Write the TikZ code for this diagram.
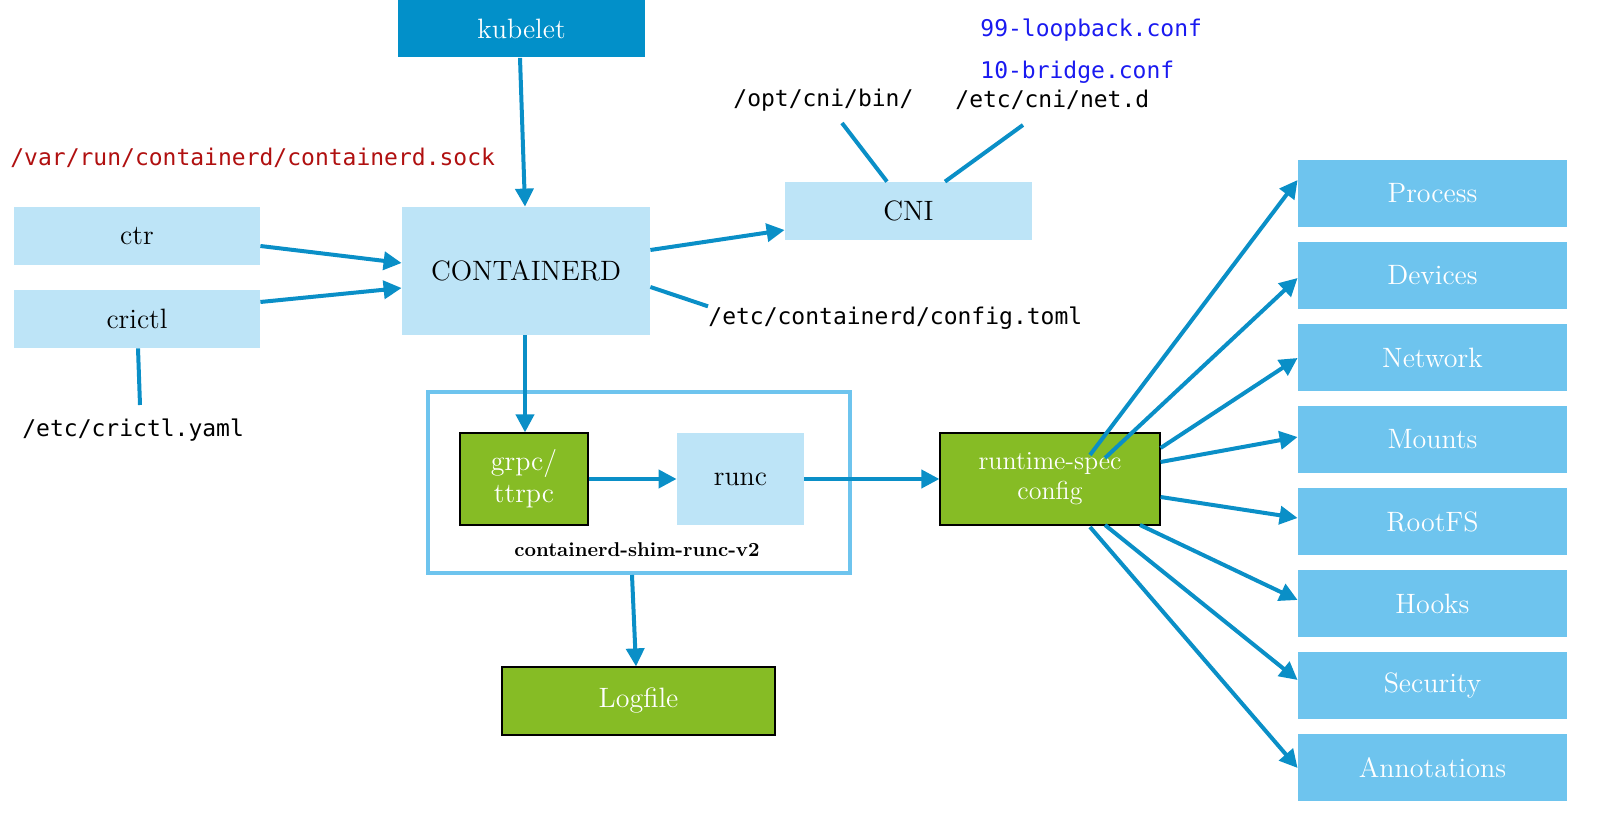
\documentclass[tikz,border=0pt]{standalone}
\usepackage{fontspec}
\setmonofont{DejaVu Sans Mono}
\usetikzlibrary{arrows.meta}
\definecolor{dblue}{HTML}{0290C9}
\definecolor{lblue}{HTML}{BDE4F7}
\definecolor{mblue}{HTML}{6EC4EE}
\definecolor{gr}{HTML}{86BC25}
\definecolor{arr}{HTML}{0A8FC7}
\definecolor{dred}{HTML}{B01010}
\definecolor{cblue}{HTML}{1A1AF0}
\tikzset{
 box/.style={fill=lblue,draw=none,minimum width=123pt,minimum height=29pt,font=\fontsize{14}{16}\selectfont,inner sep=0pt},
 rbox/.style={fill=mblue,draw=none,minimum width=134.5pt,minimum height=33.5pt,text=white,font=\fontsize{14}{16}\selectfont,inner sep=0pt},
 gbox/.style={fill=gr,draw=black,line width=0.6pt,text=white,font=\fontsize{14}{16}\selectfont,inner sep=0pt,align=center},
 mono/.style={font=\ttfamily\fontsize{11.5}{13}\selectfont,inner sep=0pt},
 ar/.style={draw=arr,line width=2pt,-{Triangle[length=9pt,width=9pt]}},
 ln/.style={draw=arr,line width=2pt},
}
\begin{document}
\begin{tikzpicture}[x=0.5pt,y=-0.5pt]
\useasboundingbox (0,0) rectangle (1608,822);
\node[box,fill=dblue,text=white,minimum width=123.5pt] (kub) at (521.5,28.5) {kubelet};
\node[box] (ctr) at (137,236) {ctr};
\node[box] (cri) at (137,319) {crictl};
\node[box,minimum height=64pt,minimum width=124pt] (cd) at (526,271) {CONTAINERD};
\node[box,minimum width=123.5pt] (cni) at (908.5,211) {CNI};
\node[draw=mblue,line width=2pt,minimum width=211pt,minimum height=90.5pt] (shim) at (639,482.5) {};
\node[gbox,minimum width=64pt,minimum height=46pt] (grpc) at (524,479) {grpc/\\ttrpc};
\node[box,minimum width=63.5pt,minimum height=46pt] (runc) at (740.5,479) {runc};
\node[gbox,minimum width=110pt,minimum height=46pt,font=\fontsize{13}{15}\selectfont] (spec) at (1050,479) {runtime-spec\\config};
\node[gbox,minimum width=136.5pt,minimum height=34pt] (log) at (638.5,701) {Logfile};
\node[font=\bfseries\fontsize{10}{12}\selectfont] (shl) at (637,550) {containerd-shim-runc-v2};
\foreach \n/\t/\y in {p/Process/193.5,d/Devices/275.5,n/Network/357.5,m/Mounts/439.5,r/RootFS/521.5,h/Hooks/603.5,s/Security/685.5,a/Annotations/767.5}
  \node[rbox] (\n) at (1432.5,\y) {\t};
\node[mono,text=dred,anchor=west] (sock) at (10,158) {/var/run/containerd/containerd.sock};
\node[mono,anchor=west] (cy) at (22,430) {/etc/crictl.yaml};
\node[mono,anchor=west] (ob) at (733,100) {/opt/cni/bin/};
\node[mono,anchor=west] (nd) at (955,100) {/etc/cni/net.d};
\node[mono,text=cblue,anchor=west] (lb) at (980,30) {99-loopback.conf};
\node[mono,text=cblue,anchor=west] (br) at (980,72) {10-bridge.conf};
\node[mono,anchor=west] (ct) at (708,318) {/etc/containerd/config.toml};
% connectors
\draw[ar] (kub.south -| 520,0) -- (cd.north -| 525,0);
\draw[ar] (ctr.east |- 0,246) -- (cd.west |- 0,263);
\draw[ar] (cri.east |- 0,302) -- (cd.west |- 0,288);
\draw[ar] (cd.east |- 0,250) -- (cni.west |- 0,230);
\draw[ln] (cd.east |- 0,287) -- (ct.north west);
\draw[ln] (cri.south -| 138,0) -- (140,405);
\draw[ln] (842,123) -- (cni.north -| 887,0);
\draw[ln] (1023,125) -- (cni.north -| 945,0);
\draw[ar] (cd.south -| 525,0) -- (grpc.north -| 525,0);
\draw[ar] (grpc.east) -- (runc.west);
\draw[ar] (runc.east) -- (spec.west);
\draw[ar] (shim.south -| 632,0) -- (log.north -| 636,0);
\draw[ar] (1090,455) -- (p.west |- 0,180);
\draw[ar] (1105,458) -- (d.west |- 0,278);
\draw[ar] (spec.east |- 0,448) -- (n.west |- 0,358);
\draw[ar] (spec.east |- 0,462) -- (m.west |- 0,437);
\draw[ar] (spec.east |- 0,497) -- (r.west |- 0,518);
\draw[ar] (1140,525) -- (h.west |- 0,600);
\draw[ar] (1105,525) -- (s.west |- 0,680);
\draw[ar] (1090,527) -- (a.west |- 0,768);
\end{tikzpicture}
\end{document}
